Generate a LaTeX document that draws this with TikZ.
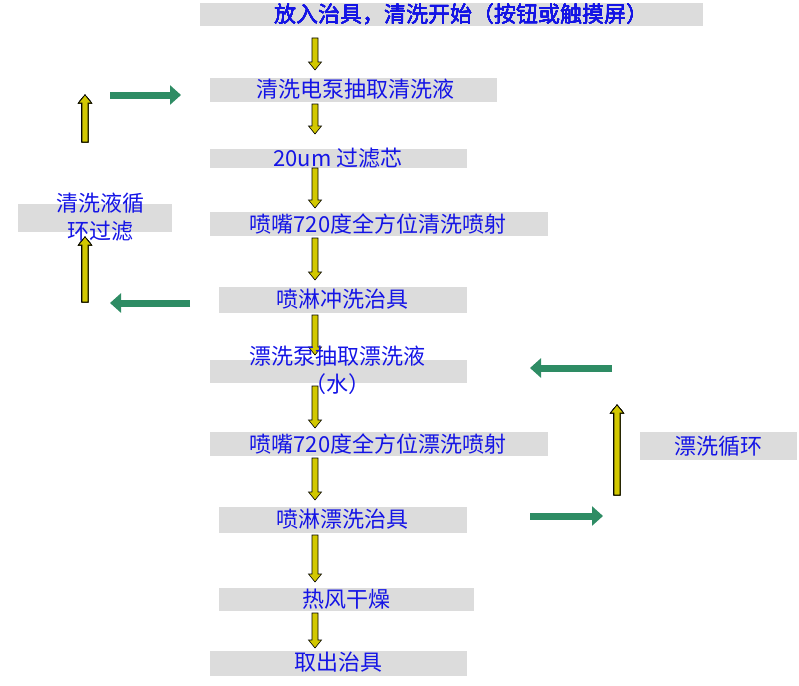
\documentclass[tikz,border=0pt]{standalone}
\usepackage{fontspec}
\newfontfamily\cjk{Noto Sans CJK SC}
\usetikzlibrary{arrows.meta}
\definecolor{bx}{RGB}{220,220,220}
\definecolor{tx}{RGB}{20,20,230}
\definecolor{gr}{RGB}{46,140,100}
\definecolor{yl}{RGB}{210,200,0}
\tikzset{x=1pt,y=-1pt,
 bar/.style={fill=bx,draw=none},
 lbl/.style={text=tx,font=\cjk\fontsize{22}{28}\selectfont,inner sep=0pt},
 yar/.style={draw=black,line width=0.6pt,fill=yl},
 ga/.style={draw=gr,line width=7pt,-{Triangle[length=11pt,width=19pt]}}}
\newcommand\yarrow[3]{\fill[yar] ({#1-3},#2) -- ({#1+3},#2) -- ({#1+3},{#3-8*sign(#3-#2)}) -- ({#1+6.5},{#3-8*sign(#3-#2)}) -- (#1,#3) -- ({#1-6.5},{#3-8*sign(#3-#2)}) -- ({#1-3},{#3-8*sign(#3-#2)}) -- cycle;}
\begin{document}
\begin{tikzpicture}
\useasboundingbox (0,0) rectangle (799,685);
\fill[bar] (200,3) rectangle (703,26);
\fill[bar] (210,78) rectangle (497,102);
\fill[bar] (210,149) rectangle (467,168);
\fill[bar] (210,212) rectangle (548,236);
\fill[bar] (219,287) rectangle (467,313);
\fill[bar] (210,360) rectangle (467,383);
\fill[bar] (210,432) rectangle (548,456);
\fill[bar] (219,507) rectangle (467,533);
\fill[bar] (219,588) rectangle (474,611);
\fill[bar] (210,651) rectangle (467,676);
\fill[bar] (18,204) rectangle (172,232);
\fill[bar] (640,432) rectangle (797,460);
\foreach \a/\b in {38/70,104/134,168/208,238/280,315/355,386/428,458/500,535/582,613/648}
  \yarrow{315}{\a}{\b}
\yarrow{85}{142}{95}
\yarrow{85}{302}{237}
\yarrow{617}{495}{405}
\node[lbl] (t1) at (461,14) {放入治具，清洗开始（按钮或触摸屏）};
\node[lbl] (t2) at (355,89) {清洗电泵抽取清洗液};
\node[lbl] (t3) at (338,158) {20um 过滤芯};
\node[lbl] (t4) at (378,224) {喷嘴720度全方位清洗喷射};
\node[lbl] (t5) at (342,299) {喷淋冲洗治具};
\node[lbl,align=center] (t6) at (337,370) {漂洗泵抽取漂洗液\\（水）};
\node[lbl] (t7) at (378,444) {喷嘴720度全方位漂洗喷射};
\node[lbl] (t8) at (342,519) {喷淋漂洗治具};
\node[lbl] (t9) at (346,599) {热风干燥};
\node[lbl] (t10) at (338,662) {取出治具};
\node[lbl,align=center] (tl) at (100,217) {清洗液循\\环过滤};
\node[lbl] (tr) at (718,446) {漂洗循环};
\coordinate (g1a) at (110,95); \coordinate (g1b) at (181,95);
\coordinate (g2a) at (190,303); \coordinate (g2b) at (110,303);
\coordinate (g3a) at (612,368); \coordinate (g3b) at (530,368);
\coordinate (g4a) at (530,516); \coordinate (g4b) at (603,516);
\draw[ga] (g1a)--(g1b);
\draw[ga] (g2a)--(g2b);
\draw[ga] (g3a)--(g3b);
\draw[ga] (g4a)--(g4b);
\end{tikzpicture}
\end{document}
